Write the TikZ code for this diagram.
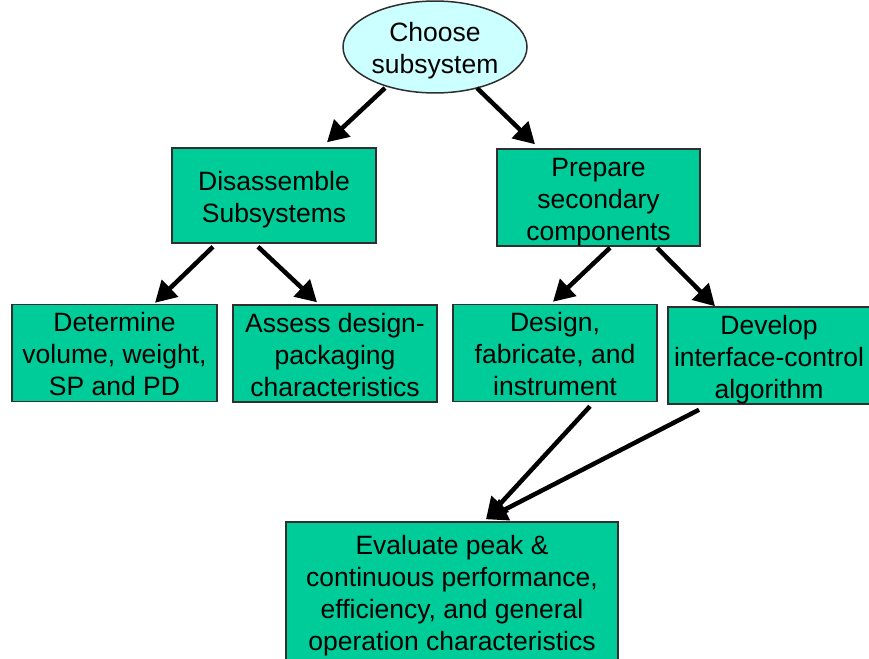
\documentclass[tikz,border=0pt]{standalone}
\usepackage{fontspec}
\setmainfont{Liberation Sans}
\usetikzlibrary{arrows.meta,shapes.geometric}
\definecolor{boxgreen}{HTML}{00CC99}
\definecolor{ellfill}{HTML}{CCFFFF}
\definecolor{edge}{HTML}{2F2F2F}
\newcommand{\fa}{\rule{0pt}{27pt}}
\newcommand{\fz}{\rule[-6pt]{0pt}{6pt}}
\tikzset{
  stepbox/.style={draw=edge, line width=1.5pt, fill=boxgreen, rectangle, align=center,
    inner sep=0pt, font=\fontsize{26.5}{32}\selectfont},
  startell/.style={draw=edge, line width=1.5pt, fill=ellfill, ellipse, align=center,
    inner sep=0pt, minimum width=184pt, minimum height=90pt, font=\fontsize{26.5}{32}\selectfont},
  arr/.style={line width=4.5pt, -{Triangle[length=21pt,width=23pt]}},
}
\begin{document}
\begin{tikzpicture}[x=1pt,y=-1pt]
\useasboundingbox (0,0) rectangle (869,658);
\node[startell] (ell) at (435,47) {\fa Choose\\subsystem\fz};
\node[stepbox, minimum width=204pt, minimum height=95pt] (dis) at (274,195.5) {\fa Disassemble\\Subsystems\fz};
\node[stepbox, minimum width=203pt, minimum height=95pt] (prep) at (598.5,197.5) {\fa Prepare\\secondary\\components\fz};
\node[stepbox, minimum width=205pt, minimum height=96pt] (det) at (114.5,353) {\fa Determine\\volume, weight,\\SP and PD\fz};
\node[stepbox, minimum width=204pt, minimum height=95pt] (ass) at (335,353.5) {\fa Assess design-\\packaging\\characteristics\fz};
\node[stepbox, minimum width=204pt, minimum height=96pt] (des) at (555,353) {\fa Design,\\fabricate, and\\instrument\fz};
\node[stepbox, minimum width=202pt, minimum height=95pt] (dev) at (769,355.5) {\fa Develop\\interface-control\\algorithm\fz};
\node[stepbox, minimum width=332pt, minimum height=140pt] (eval) at (452,592) {\fa Evaluate peak \&\\continuous performance,\\efficiency, and general\\operation characteristics\fz};
\draw[arr] ([xshift=-50pt,yshift=-41pt]ell.center) -- ([xshift=53pt,yshift=5pt]dis.north);
\draw[arr] ([xshift=42pt,yshift=-41pt]ell.center) -- ([xshift=-63.5pt,yshift=4pt]prep.north);
\draw[arr] ([xshift=-61pt,yshift=-3pt]dis.south) -- ([xshift=40.5pt,yshift=1pt]det.north);
\draw[arr] ([xshift=-16pt,yshift=-3pt]dis.south) -- ([xshift=-18pt,yshift=2pt]ass.north);
\draw[arr] ([xshift=11.5pt,yshift=-1pt]prep.south) -- ([xshift=-2pt,yshift=2pt]des.north);
\draw[arr] ([xshift=58.5pt,yshift=-1pt]prep.south) -- ([xshift=-54pt,yshift=0pt]dev.north);
\draw[arr] ([xshift=35pt,yshift=-4pt]des.south) -- ([xshift=34pt,yshift=2pt]eval.north);
\draw[arr] ([xshift=-70pt,yshift=-5pt]dev.south) -- ([xshift=34pt,yshift=2pt]eval.north);
\end{tikzpicture}
\end{document}
